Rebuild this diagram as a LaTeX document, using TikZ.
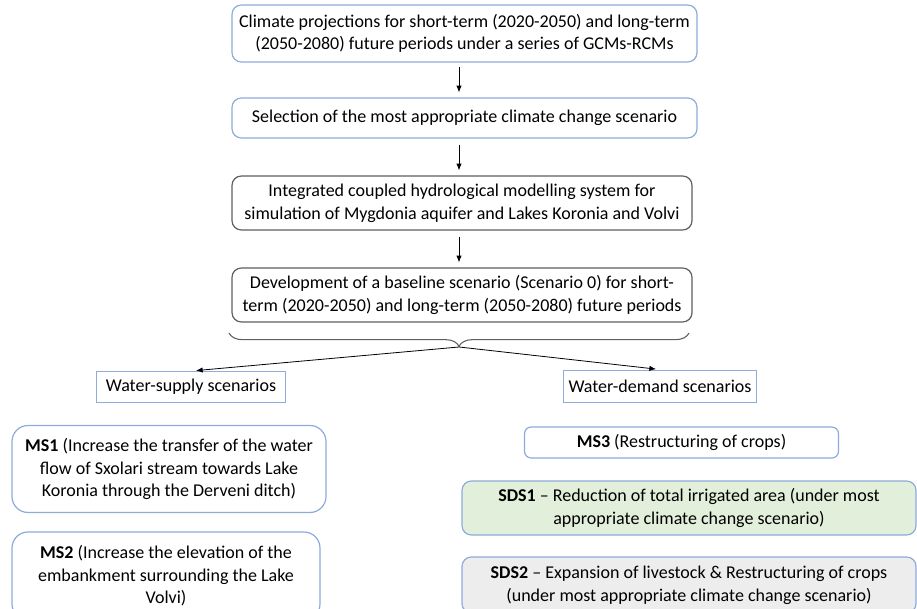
\documentclass[tikz,border=0pt]{standalone}
\usepackage{fontspec}
\setmainfont{Carlito}
\usetikzlibrary{arrows.meta,positioning,decorations.pathreplacing}
\newdimen\px \px=0.75pt
\definecolor{boxblue}{RGB}{143,170,220}
\definecolor{boxgray}{RGB}{95,95,95}
\definecolor{sdsgreen}{RGB}{226,239,218}
\definecolor{sdsgray}{RGB}{237,237,237}
\tikzset{
  blk/.style={draw=boxblue, line width=0.9pt, rounded corners=7pt, align=center,
    font=\fontsize{13.5}{17}\selectfont, inner sep=0pt, fill=#1},
  blk/.default=white,
  gblk/.style={blk, draw=boxgray},
  lbl/.style={draw=boxblue, line width=0.7pt, align=center,
    font=\fontsize{13.5}{17}\selectfont, inner sep=0pt},
  arr/.style={-{Latex[length=5pt,width=4pt]}, semithick},
}

\begin{document}
\begin{tikzpicture}[x=0.75pt,y=-0.75pt]
  \useasboundingbox (0,0) rectangle (917,609);
  \clip (0,0) rectangle (917,609);

  % main chain
  \node[blk, minimum width=465\px, minimum height=57\px] (proj) at (464.5,33.5)
    {Climate projections for short-term (2020-2050) and long-term\\(2050-2080) future periods under a series of GCMs-RCMs};
  \node[blk, minimum width=465\px, minimum height=40\px] (sel) at (464.5,118)
    {Selection of the most appropriate climate change scenario};
  \node[gblk, minimum width=460\px, minimum height=54\px] (model) at (462,203)
    {Integrated coupled hydrological modelling system for\\simulation of Mygdonia aquifer and Lakes Koronia and Volvi};
  \node[gblk, minimum width=460\px, minimum height=54\px] (base) at (462,295)
    {Development of a baseline scenario (Scenario 0) for short-\\term (2020-2050) and long-term (2050-2080) future periods};
  \coordinate (axis) at (459,0);
  \draw[arr, shorten <=4\px, shorten >=5\px] (proj.south -| axis) -- (sel.north -| axis);
  \draw[arr, shorten <=6\px, shorten >=5\px] (sel.south -| axis) -- (model.north -| axis);
  \draw[arr, shorten <=6\px, shorten >=5\px] (model.south -| axis) -- (base.north -| axis);

  % brace and split
  \coordinate (bl) at (229,333);
  \coordinate (br) at (689,333);
  \draw[boxgray, line width=0.8pt, decorate, decoration={brace, mirror, amplitude=10pt}] (bl) -- (br);
  \coordinate (tip) at (459,347);

  \node[lbl, minimum width=189\px, minimum height=31\px] (sup) at (191,387) {Water-supply scenarios};
  \node[lbl, minimum width=193\px, minimum height=32\px] (dem) at (660,386) {Water-demand scenarios};
  \draw[arr, shorten >=5\px] (tip) -- (sup.north);
  \draw[arr, shorten >=4\px] (tip) -- (dem.north);

  % supply measures
  \node[blk, rounded corners=12pt, minimum width=314\px, minimum height=87\px] (ms1) at (169,469)
    {\textbf{MS1} (Increase the transfer of the water\\flow of Sxolari stream towards Lake\\Koronia through the Derveni ditch)};
  \node[blk, rounded corners=12pt, minimum width=308\px, minimum height=88\px] (ms2) at (166,576)
    {\textbf{MS2} (Increase the elevation of the\\embankment surrounding the Lake\\Volvi)};

  % demand measures
  \node[blk, rounded corners=5pt, minimum width=314\px, minimum height=31\px] (ms3) at (681.5,442.5)
    {\textbf{MS3} (Restructuring of crops)};
  \node[blk=sdsgreen, minimum width=454\px, minimum height=54\px] (sds1) at (689,508)
    {\textbf{SDS1} -- Reduction of total irrigated area (under most\\appropriate climate change scenario)};
  \node[blk=sdsgray, minimum width=454\px, minimum height=56\px] (sds2) at (689,585)
    {\textbf{SDS2} -- Expansion of livestock \& Restructuring of crops\\(under most appropriate climate change scenario)};
\end{tikzpicture}
\end{document}
